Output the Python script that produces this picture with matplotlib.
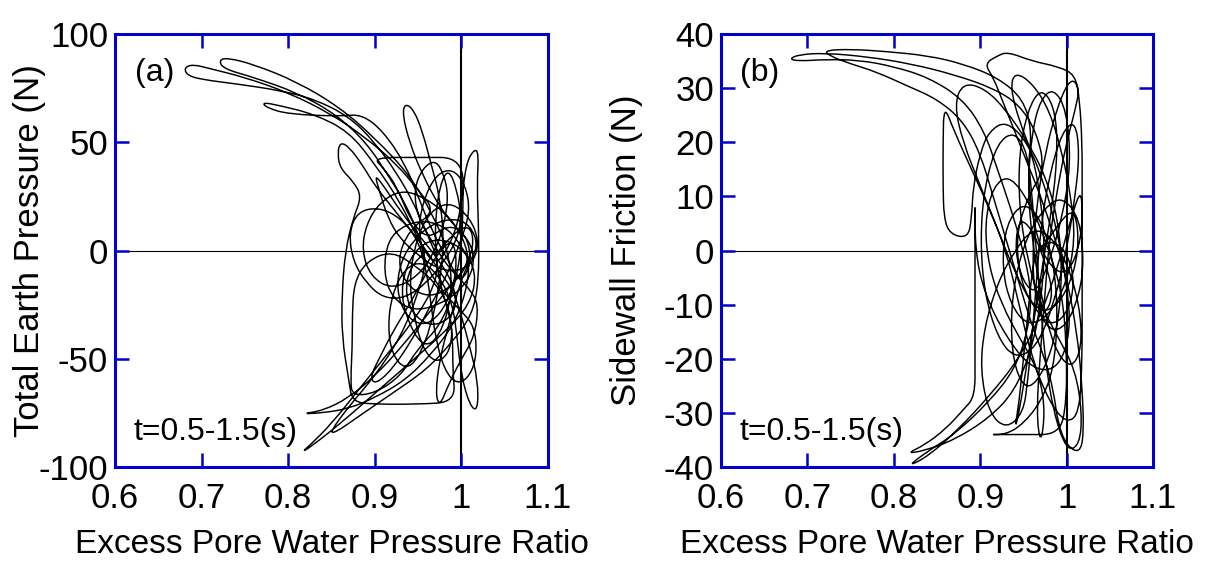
import matplotlib
matplotlib.use("Agg")
import matplotlib.pyplot as plt
from matplotlib.path import Path
from matplotlib.patches import PathPatch

plt.rcParams['font.family'] = ['Liberation Sans', 'DejaVu Sans']
plt.rcParams['axes.unicode_minus'] = False

# (a) excess pore water pressure ratio vs total earth pressure, t = 0.5-1.5 s
ratio_a = [
    0.97, 0.99, 1.01, 1.015, 1.0, 0.97, 0.94, 0.925, 0.94, 0.97,
    0.95, 0.925, 0.89, 0.85, 0.80, 0.75, 0.71, 0.69, 0.68, 0.683,
    0.70, 0.74, 0.79, 0.83, 0.87, 0.90, 0.925, 0.945, 0.96, 0.975,
    0.965, 0.94, 0.91, 0.88, 0.85, 0.825, 0.816, 0.825, 0.86, 0.90,
    0.94, 0.98, 1.01, 1.018, 1.0, 0.97, 0.945, 0.93, 0.935, 0.955,
    0.975, 0.99, 0.985, 0.965, 0.94, 0.90, 0.86, 0.81, 0.76, 0.73,
    0.72, 0.725, 0.76, 0.81, 0.855, 0.89, 0.915, 0.935, 0.95, 0.96,
    0.95, 0.93, 0.90, 0.87, 0.848, 0.855, 0.88, 0.92, 0.96, 0.99,
    1.012, 1.02, 1.02, 1.018, 1.02, 1.015, 1.005, 1.0, 0.99, 0.97,
    0.95, 0.93, 0.90, 0.87, 0.83, 0.79, 0.77, 0.775, 0.80, 0.86,
    0.885, 0.91, 0.935, 0.95, 0.965, 0.985, 1.0, 1.012, 1.005, 0.985,
    0.96, 0.94, 0.925, 0.91, 0.898, 0.95, 1.002, 1.002, 1.0, 0.99,
    0.975, 0.95, 0.93, 0.90, 0.874, 0.872, 0.874, 0.874, 0.876, 0.89,
    0.92, 0.95, 0.97, 0.985, 0.99, 0.99, 0.993, 0.95, 0.90, 0.874,
    0.87, 0.862, 0.862, 0.866, 0.875, 0.885, 0.875, 0.86, 0.857, 0.86,
    0.87, 0.885, 0.90, 0.92, 0.94, 0.96, 0.975, 0.99, 1.0, 1.01,
    1.019, 1.019, 1.01, 1.0, 0.995, 0.99, 0.975, 0.955, 0.935, 0.92,
    0.915, 0.92, 0.935, 0.95, 0.965, 0.975, 0.98, 0.975, 0.965, 0.955,
    0.945, 0.935, 0.932, 0.94, 0.955, 0.975, 0.995, 1.012, 1.015, 1.0,
    0.975, 0.945, 0.92, 0.91, 0.915, 0.935, 0.96, 0.985, 1.0, 1.01,
    0.99, 0.96, 0.93, 0.90, 0.87, 0.84, 0.814, 0.84, 0.87, 0.90,
    0.935, 0.965, 0.99, 1.005, 1.01, 1.0, 0.98, 0.955, 0.93, 0.905,
    0.89, 0.885, 0.895, 0.92, 0.95, 0.97, 0.98, 0.985, 0.98, 0.97,
    0.955, 0.945, 0.95, 0.965, 0.98, 0.995, 1.01, 1.02, 1.015, 1.0,
    0.985, 0.975, 0.97, 0.975, 0.985, 0.995, 1.005, 1.02, 1.01, 0.99,
    0.965, 0.945, 0.93, 0.925, 0.935, 0.955, 0.975, 0.99, 0.995, 0.99,
    0.975, 0.96, 0.94, 0.92, 0.905, 0.895, 0.90, 0.92, 0.945, 0.965,
    0.985, 1.0, 1.01, 1.005, 0.99, 0.97, 0.955, 0.95, 0.96, 0.98,
    1.0, 1.015, 1.018, 1.01, 0.995, 0.98, 0.97, 0.965, 0.96, 0.95,
    0.93, 0.905, 0.88, 0.87, 0.875, 0.89, 0.91, 0.935, 0.96, 0.98,
    0.995, 1.0, 0.995, 0.985, 0.975, 0.97, 0.97, 0.975, 0.985, 0.99,
    0.985, 0.97, 0.955, 0.945, 0.94, 0.945, 0.955, 0.97, 0.99, 1.01,
    1.02, 1.015, 0.995, 0.97, 0.95, 0.93, 0.915, 0.905, 0.90, 0.91,
    0.93, 0.955, 0.975, 0.99, 0.995, 0.985, 0.965, 0.945, 0.935, 0.94,
    0.96,
]
pressure_a = [
    -2, 8, 12, 2, -12, -22, -18, -5, 10, 18,
    28, 40, 52, 63, 73, 80, 84, 86, 84.5, 81,
    79, 77, 74, 70, 62, 50, 36, 22, 8, -6,
    -20, -35, -50, -65, -80, -90, -93, -91, -80, -66,
    -52, -38, -25, -10, 2, 6, 0, -15, -30, -45,
    -40, -20, 0, 18, 35, 52, 66, 78, 86, 89,
    88, 84, 80, 73, 63, 50, 35, 22, 8, -5,
    -20, -40, -58, -72, -84, -84, -77, -66, -55, -42,
    -30, -15, 10, 30, 45, 47, 40, 20, 5, -8,
    5, 22, 40, 55, 63, 67, 68.5, 66, 63, 62,
    63, 55, 40, 25, 10, -5, -15, -5, 8, 12,
    5, 15, 30, 38, 43, 43, 43, 20, 0, -20,
    -35, -45, -58, -66, -67, -60, -45, -30, -15, -5,
    0, -8, -15, -25, -40, -55, -70, -71, -71, -70,
    -60, -40, -20, 0, 15, 25, 32, 38, 45, 50,
    48, 40, 30, 20, 10, 0, -10, -18, -30, -45,
    -60, -74, -72, -58, -40, -25, -12, -5, -8, -20,
    -35, -48, -55, -50, -35, -15, 5, 25, 40, 55,
    65, 68, 63, 50, 35, 20, 10, 3, -8, -18,
    -25, -28, -22, -10, 5, 12, 14, 10, 2, -5,
    -15, -30, -45, -58, -68, -74, -75.5, -75, -73, -68,
    -60, -48, -35, -20, -5, 8, 18, 25, 28, 22,
    12, 0, -12, -18, -12, 0, 12, 25, 35, 42,
    38, 28, 15, 5, -5, -12, -18, -25, -40, -50,
    -62, -72, -66, -50, -35, -20, -8, 2, 12, 15,
    12, 5, -5, -18, -30, -35, -30, -18, -5, 5,
    0, -10, -25, -38, -50, -58, -62, -55, -40, -25,
    -10, 5, 18, 30, 38, 35, 22, 8, -8, -20,
    -28, -35, -48, -58, -62, -55, -40, -25, -10, 5,
    15, 20, 18, 8, -5, -15, -22, -22, -15, -5,
    5, 15, 28, 38, 30, 15, 0, -15, -28, -38,
    -48, -52, -45, -30, -15, 0, 12, 20, 22, 15,
    5, -5, -10, -8, -2, 5, 15, 28, 35, 30,
    18, 5, -5, -15, -25, -32, -35, -30, -20, -8,
    0,
]

# (b) excess pore water pressure ratio vs sidewall friction
ratio_b = [
    0.97, 0.99, 1.01, 1.015, 1.0, 0.975, 0.95, 0.94, 0.955, 0.975,
    0.965, 0.945, 0.915, 0.87, 0.82, 0.77, 0.72, 0.69, 0.679, 0.69,
    0.72, 0.76, 0.80, 0.84, 0.88, 0.905, 0.92, 0.935, 0.95, 0.96,
    0.955, 0.94, 0.91, 0.87, 0.84, 0.815, 0.84, 0.875, 0.91, 0.945,
    0.97, 0.99, 1.005, 1.018, 1.018, 1.0, 0.975, 0.96, 0.955, 0.96,
    0.95, 0.92, 0.88, 0.84, 0.79, 0.75, 0.72, 0.725, 0.75, 0.78,
    0.816, 0.85, 0.88, 0.90, 0.915, 0.93, 0.945, 0.96, 0.975, 0.985,
    0.99, 1.0, 1.015, 1.02, 1.018, 1.012, 1.0, 0.985, 0.97, 0.955,
    0.94, 0.925, 0.915, 0.905, 0.92, 0.932, 0.96, 0.99, 1.01, 1.015,
    1.018, 1.018, 1.018, 1.018, 1.018, 1.015, 1.0, 0.98, 0.96, 0.945,
    0.93, 0.91, 0.89, 0.87, 0.858, 0.857, 0.857, 0.858, 0.865, 0.886,
    0.89, 0.892, 0.90, 0.91, 0.93, 0.955, 0.975, 0.99, 1.0, 1.005,
    0.99, 0.96, 0.93, 0.905, 0.894, 0.894, 0.894, 0.894, 0.894, 0.894,
    0.88, 0.86, 0.835, 0.815, 0.835, 0.87, 0.91, 0.94, 0.96, 0.97,
    0.975, 0.97, 0.96, 0.945, 0.935, 0.94, 0.96, 0.98, 0.995, 1.005,
    1.01, 1.0, 0.98, 0.955, 0.935, 0.925, 0.93, 0.95, 0.97, 0.985,
    0.99, 0.985, 0.97, 0.95, 0.93, 0.908, 0.95, 0.992, 1.0, 1.0,
    0.995, 0.98, 0.96, 0.935, 0.915, 0.905, 0.91, 0.925, 0.945, 0.96,
    0.97, 0.975, 0.97, 0.965, 0.97, 0.975, 0.98, 0.99, 1.0, 1.01,
    1.015, 1.005, 0.99, 0.975, 0.965, 0.96, 0.965, 0.98, 1.0, 1.015,
    1.02, 1.015, 0.995, 0.975, 0.955, 0.94, 0.935, 0.94, 0.955, 0.975,
    0.99, 0.995, 0.99, 0.975, 0.955, 0.93, 0.905, 0.88, 0.87, 0.88,
    0.90, 0.92, 0.94, 0.96, 0.98, 1.0, 1.01, 1.0, 0.98, 0.965,
    0.96, 0.955, 0.95, 0.945, 0.94, 0.945, 0.955, 0.965, 0.975, 0.985,
    0.99, 0.985, 0.97, 0.955, 0.945, 0.945, 0.955, 0.97, 0.99, 1.01,
    1.018, 1.015, 1.0, 0.985, 0.975, 0.97, 0.965, 0.96, 0.955, 0.94,
    0.92, 0.905, 0.90, 0.905, 0.92, 0.94, 0.965, 0.985, 1.0, 1.01,
    1.015, 1.01, 0.995, 0.98, 0.97, 0.965, 0.96, 0.955, 0.95, 0.93,
    0.91, 0.90, 0.905, 0.92, 0.94, 0.96, 0.98, 1.0, 1.015, 1.018,
    1.005, 0.985, 0.97, 0.96, 0.955, 0.96, 0.97, 0.985, 1.0, 1.005,
    0.995, 0.98, 0.965, 0.95, 0.94, 0.945, 0.96, 0.975, 0.985, 0.975,
    0.965,
]
friction_b = [
    0, 5, 8, 0, -8, -12, -8, 2, 10, 15,
    22, 27, 30, 32.5, 34.5, 35.8, 36.5, 36.2, 35.4, 35,
    35.3, 35.2, 34, 32, 28, 22, 15, 8, 0, -8,
    -15, -22, -28, -34, -37, -40, -38, -33, -27, -20,
    -12, -3, 6, 12, 2, -5, -2, 6, 15, 22,
    28, 32, 34.5, 36, 36.8, 37.2, 37, 36, 34.5, 33,
    30.4, 28, 24, 18, 10, 2, -6, -14, -20, -26,
    -32, -36, -37.5, -34, -25, -15, -5, 3, 10, 16,
    22, 28, 32, 34.5, 36, 36.7, 35, 34, 32.5, 28,
    20, 10, 0, -10, -20, -30, -32, -28, -20, -10,
    0, 8, 15, 22, 27, 20, 12, 6, 3, 2.3,
    6, 12, 18, 22, 24, 20, 12, 3, -6, -15,
    -22, -22, -16, -8, 0, 10.6, 0, -10, -20, -27,
    -29.5, -33, -36, -37.5, -37, -35, -31, -26, -18, -10,
    0, 10, 18, 24, 30, 33, 31, 26, 18, 10,
    2, -6, -12, -14, -10, -3, 5, 9, 6, -2,
    -12, -22, -28, -32, -34, -34, -34, -34, -28, -18,
    -8, 0, 8, 14, 12, 5, -3, -10, -16, -20,
    -24, -30, -36, -30, -18, -8, 2, 12, 20, 26,
    30, 32, 27, 18, 8, -2, -10, -15, -14, -8,
    -2, 6, 10, 8, 3, -5, -14, -22, -26, -22,
    -14, -4, 6, 14, 20, 26, 30, 31, 27, 20,
    12, 4, -4, -10, -14, -12, -6, 0, 2, 0,
    -4, -12, -20, -28, -33, -30, -20, -10, 0, 10,
    20, 27, 30, 26, 18, 8, -2, -10, -16, -22,
    -30, -36, -37, -30, -20, -10, 0, 10, 18, 22,
    20, 12, 2, -8, -16, -20, -18, -10, 0, 10,
    18, 24, 22, 14, 4, -6, -16, -24, -30, -33,
    -30, -22, -14, -6, 0, 4, 3, -2, -10, -18,
    -22, -18, -8, 2, 12, 22, 28, 30, 26, 16,
    6, -2, -8, -6, 0, 6, 4, -2, -8, -12,
    -8,
]

x_ticks = [0.6, 0.7, 0.8, 0.9, 1.0, 1.1]
x_labels = ['0.6', '0.7', '0.8', '0.9', '1', '1.1']
blue = '#0000cc'


def smooth_path(xs, ys):
    # quadratic B-spline through the recorded samples
    pts = list(zip(xs, ys))
    verts = [pts[0]]
    codes = [Path.MOVETO]
    for i in range(1, len(pts) - 1):
        mid = ((pts[i][0] + pts[i + 1][0]) / 2, (pts[i][1] + pts[i + 1][1]) / 2)
        verts += [pts[i], mid]
        codes += [Path.CURVE3, Path.CURVE3]
    verts.append(pts[-1])
    codes.append(Path.LINETO)
    return Path(verts, codes)


fig = plt.figure(figsize=(12.21, 5.63), dpi=100)
ax_a = fig.add_axes([0.0942, 0.1705, 0.3546, 0.769])
ax_b = fig.add_axes([0.5905, 0.1705, 0.3538, 0.769])

panels = [
    (ax_a, ratio_a, pressure_a, (-100, 100), [-100, -50, 0, 50, 100],
     'Total Earth Pressure (N)', '(a)', -0.16),
    (ax_b, ratio_b, friction_b, (-40, 40), list(range(-40, 41, 10)),
     'Sidewall Friction (N)', '(b)', -0.18),
]

for ax, xs, ys, ylim, yticks, ylabel, tag, ylab_x in panels:
    ax.axhline(0, color='black', lw=0.8, zorder=1)
    ax.axvline(1.0, color='black', lw=1.5, zorder=1)
    ax.add_patch(PathPatch(smooth_path(xs, ys), fill=False,
                           edgecolor='black', lw=1.05, zorder=2))

    ax.set_xlim(0.6, 1.1)
    ax.set_ylim(*ylim)
    ax.set_xticks(x_ticks)
    ax.set_xticklabels(x_labels)
    ax.set_yticks(yticks)
    ax.tick_params(direction='in', top=True, right=True, length=10,
                   width=1.8, color=blue, labelsize=25)
    ax.tick_params(axis='x', pad=11)
    ax.tick_params(axis='y', pad=5)
    for sp in ax.spines.values():
        sp.set_color(blue)
        sp.set_linewidth(2.2)

    ax.set_xlabel('Excess Pore Water Pressure Ratio', fontsize=24, labelpad=10)
    ax.set_ylabel(ylabel, fontsize=25)
    ax.yaxis.set_label_coords(ylab_x, 0.5)
    ax.text(0.045, 0.91, tag, transform=ax.transAxes, fontsize=23,
            va='center', ha='left')
    ax.text(0.042, 0.08, 't=0.5-1.5(s)', transform=ax.transAxes,
            fontsize=23, va='center', ha='left')

fig.savefig('out.png', dpi=100)
